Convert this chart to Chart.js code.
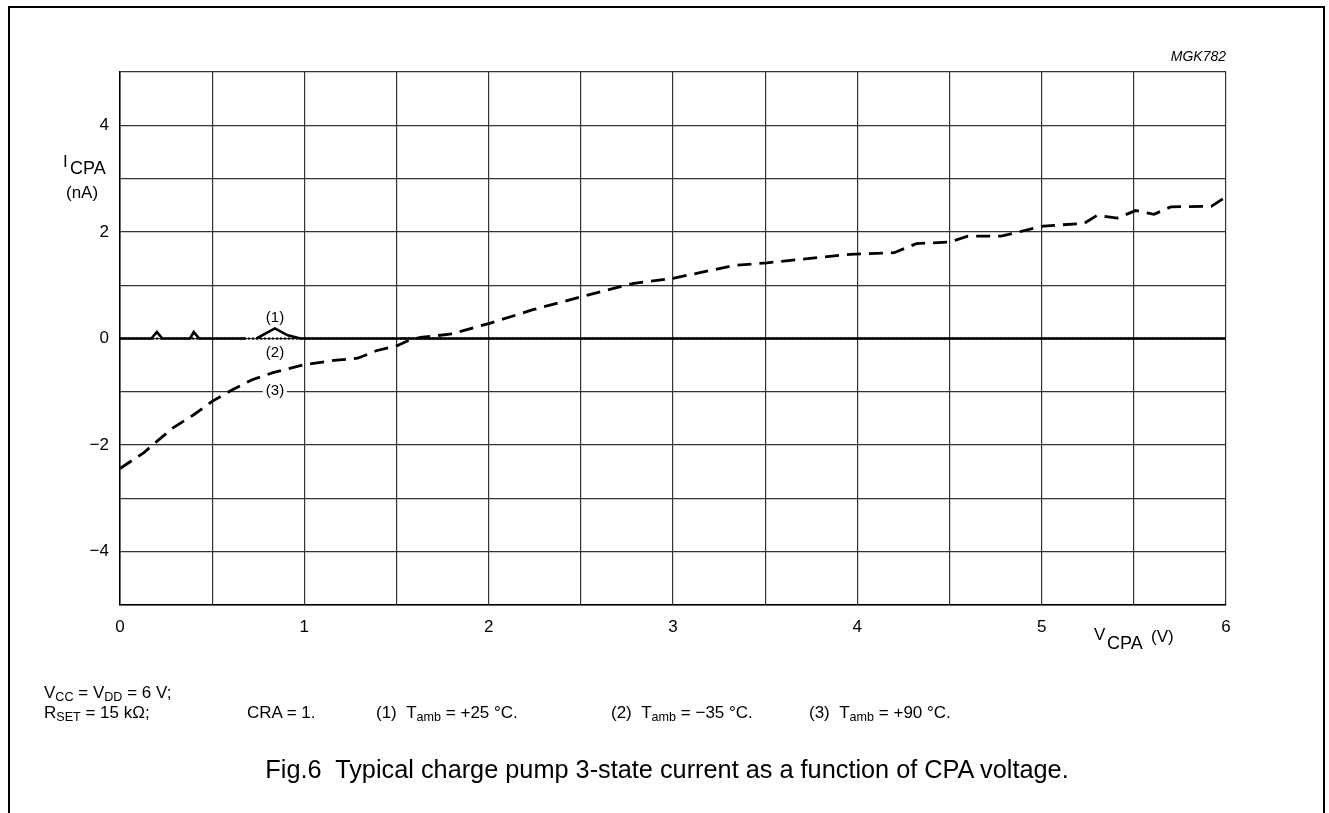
<!DOCTYPE html>
<html>
<head>
<meta charset="utf-8">
<title>Fig.6 Typical charge pump 3-state current</title>
<script src="https://cdn.jsdelivr.net/npm/chart.js@4.4.1/dist/chart.umd.min.js"></script>
<style>
  html, body { margin: 0; padding: 0; background: #fff; }
  body { width: 1329px; height: 813px; position: relative; overflow: hidden;
         font-family: 'Liberation Sans', Arial, sans-serif; color: #000; }
  #frame { position: absolute; left: 8px; top: 6px; width: 1313px; height: 840px;
           border: 2px solid #000; border-bottom: none; }
  #chart { position: absolute; left: 0; top: 0; }
  .txt { position: absolute; white-space: nowrap; line-height: 1; }
  .note { position: absolute; white-space: nowrap; font-size: 17px; line-height: 17px; }
  .note sub { font-size: 0.74em; vertical-align: -0.22em; line-height: 0; }
  #caption { position: absolute; left: 0; width: 1334px; top: 757px; text-align: center;
             font-size: 25.3px; line-height: 25px; white-space: nowrap; }
</style>
</head>
<body>
<div id="frame"></div>
<canvas id="chart" width="1329" height="813"></canvas>

<div class="note" style="left:44px; top:684px">V<sub>CC</sub> = V<sub>DD</sub> = 6 V;</div>
<div class="note" style="left:44px; top:704px">R<sub>SET</sub> = 15 kΩ;</div>
<div class="note" style="left:247px; top:704px">CRA = 1.</div>
<div class="note" style="left:376px; top:704px">(1)&nbsp;&nbsp;T<sub>amb</sub> = +25 °C.</div>
<div class="note" style="left:611px; top:704px">(2)&nbsp;&nbsp;T<sub>amb</sub> = −35 °C.</div>
<div class="note" style="left:809px; top:704px">(3)&nbsp;&nbsp;T<sub>amb</sub> = +90 °C.</div>
<div id="caption">Fig.6&nbsp; Typical charge pump 3-state current as a function of CPA voltage.</div>

<script>
// curve (1): Tamb = +25 °C, solid
const vcpa1 = [0, 0.17, 0.2, 0.23, 0.38, 0.4, 0.43, 0.68, 0.71, 0.74, 0.84, 0.91, 0.98, 6];
const icpa1 = [0, 0, 0.12, 0, 0, 0.12, 0, 0, null, 0, 0.19, 0.06, 0, 0];

// curve (2): Tamb = -35 °C, dotted
const vcpa2 = [0, 6];
const icpa2 = [0, 0];

// curve (3): Tamb = +90 °C, dashed
const vcpa3 = [0, 0.13, 0.2, 0.29, 0.4, 0.5, 0.61, 0.72, 0.83, 1.0, 1.16, 1.29, 1.39, 1.5,
               1.57, 1.63, 1.79, 2.0, 2.24, 2.51, 2.78, 3.0, 3.33, 3.51, 3.96, 4.2, 4.32,
               4.5, 4.6, 4.78, 5.01, 5.23, 5.3, 5.41, 5.51, 5.61, 5.7, 5.92, 6.0];
const icpa3 = [-2.44, -2.14, -1.93, -1.67, -1.43, -1.18, -0.96, -0.77, -0.64, -0.49, -0.41, -0.37, -0.23, -0.14,
               -0.03, 0.02, 0.08, 0.28, 0.54, 0.79, 1.03, 1.13, 1.37, 1.42, 1.58, 1.61, 1.78,
               1.81, 1.92, 1.92, 2.11, 2.16, 2.31, 2.26, 2.4, 2.33, 2.47, 2.48, 2.66];

// axis ranges and labelled ticks
const xRange = [0, 6];
const yRange = [-5, 5];
const xLabelled = [0, 1, 2, 3, 4, 5, 6];
const yLabelled = [-4, -2, 0, 2, 4];

const tickFont = { family: "'Liberation Sans', Arial, sans-serif", size: 17 };

function toPoints(xs, ys) {
    return xs.map((x, i) => ({ x: x, y: ys[i] }));
}

// text placed on its baseline
function label(html, x, baseline, size, extra) {
    const el = document.createElement('div');
    el.className = 'txt';
    el.innerHTML = html;
    el.style.fontSize = size + 'px';
    el.style.left = x + 'px';
    el.style.top = (baseline - 0.8465 * size) + 'px';
    if (extra) Object.assign(el.style, extra);
    document.body.appendChild(el);
    return el;
}

new Chart(document.getElementById('chart'), {
    type: 'scatter',
    data: {
        datasets: [
            {
                label: '(1) Tamb = +25 °C',
                data: toPoints(vcpa1, icpa1),
                showLine: true,
                spanGaps: false,
                borderColor: '#000',
                borderWidth: 2.6,
                pointRadius: 0
            },
            {
                label: '(2) Tamb = −35 °C',
                data: toPoints(vcpa2, icpa2),
                showLine: true,
                borderColor: '#000',
                borderWidth: 2,
                borderDash: [2, 2],
                pointRadius: 0
            },
            {
                label: '(3) Tamb = +90 °C',
                data: toPoints(vcpa3, icpa3),
                showLine: true,
                borderColor: '#000',
                borderWidth: 2.8,
                borderDash: [14, 8],
                pointRadius: 0
            }
        ]
    },
    options: {
        responsive: false,
        animation: false,
        devicePixelRatio: 1,
        layout: { padding: { top: 72, right: 103, left: 0, bottom: 0 } },
        plugins: {
            legend: { display: false },
            tooltip: { enabled: false }
        },
        scales: {
            x: {
                type: 'linear',
                min: xRange[0],
                max: xRange[1],
                afterFit: function(scale) { scale.height = 208; },
                ticks: {
                    stepSize: 0.5,
                    autoSkip: false,
                    maxRotation: 0,
                    padding: 12,
                    color: '#000',
                    font: tickFont,
                    callback: function(value) {
                        return xLabelled.includes(value) ? String(value) : '';
                    }
                },
                grid: { color: '#333', lineWidth: 1.2, drawTicks: false },
                border: { color: '#000', width: 1.5 }
            },
            y: {
                type: 'linear',
                min: yRange[0],
                max: yRange[1],
                afterFit: function(scale) { scale.width = 120; },
                ticks: {
                    stepSize: 1,
                    autoSkip: false,
                    padding: 11,
                    color: '#000',
                    font: tickFont,
                    callback: function(value) {
                        if (!yLabelled.includes(value)) return '';
                        return value < 0 ? '\u2212' + (-value) : String(value);
                    }
                },
                grid: { color: '#333', lineWidth: 1.2, drawTicks: false },
                border: { color: '#000', width: 1.5 }
            }
        }
    }
});

// axis titles
label('I', 63, 167, 17);
label('CPA', 70, 174, 18);
label('(nA)', 66, 198, 17);
label('V', 1094, 640, 17);
label('CPA', 1107, 649, 18);
label('(V)', 1151, 642, 17);

// figure code
label('MGK782', 0, 61, 14, { left: 'auto', right: '103px', fontStyle: 'italic' });

// curve labels
label('(1)', 275, 322, 15, { transform: 'translateX(-50%)' });
label('(2)', 275, 357, 15, { transform: 'translateX(-50%)' });
label('(3)', 275, 395, 15, { transform: 'translateX(-50%)', background: '#fff', padding: '0 3px' });
</script>
</body>
</html>
